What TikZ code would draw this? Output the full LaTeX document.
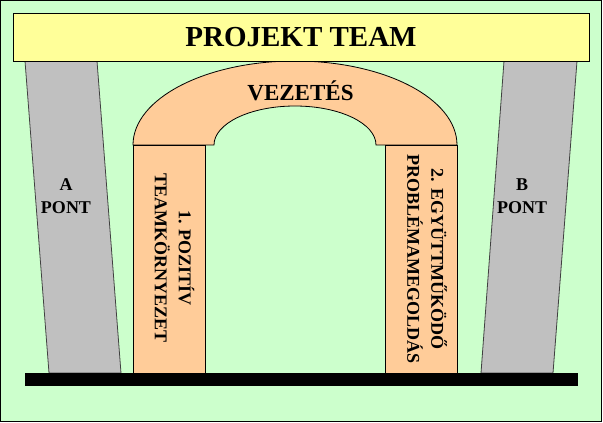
\documentclass[tikz,border=0pt]{standalone}
\usepackage{fontspec}
\setmainfont{Liberation Serif}
\definecolor{bgGreen}{HTML}{CCFFCC}
\definecolor{barYellow}{HTML}{FFFF99}
\definecolor{pillarGray}{HTML}{C0C0C0}
\definecolor{archOrange}{HTML}{FFCC99}
\tikzstyle{barbox} = [rectangle, draw, fill=barYellow, minimum width=576pt, minimum height=48pt, inner sep=0pt, font=\fontsize{29}{34}\selectfont\bfseries]
\tikzstyle{legbox} = [rectangle, draw, fill=archOrange, minimum width=72pt, minimum height=228pt, inner sep=0pt]
\tikzstyle{legtext} = [rotate=-90, align=center, inner sep=0pt, font=\fontsize{18}{24}\selectfont\bfseries]
\tikzstyle{pillar} = [draw=black!75, fill=pillarGray]
\tikzstyle{pillartext} = [align=center, inner sep=0pt, font=\fontsize{18}{23}\selectfont\bfseries]

\begin{document}
\begin{tikzpicture}[x=1pt, y=-1pt, line width=0.8pt]
        \useasboundingbox (0,0) rectangle (603,423);
        \draw[fill=bgGreen, line width=1.4pt] (0.7,0.7) rectangle (601.3,421.3);

        % pillars
        \draw[pillar] (25,61) -- (97,61) -- (121,373) -- (49,373) -- cycle;
        \draw[pillar] (504,61) -- (577,61) -- (553,373) -- (481,373) -- cycle;
        \node[pillartext] at (66,196.5) (PontA) {A\\PONT};
        \node[pillartext] at (522,196.5) (PontB) {B\\PONT};

        % arch
        \draw[fill=archOrange] (133,145) arc[start angle=180, end angle=0, x radius=162pt, y radius=84pt]
            -- (376,145) arc[start angle=0, end angle=180, x radius=81pt, y radius=39pt] -- cycle;
        \node[font=\fontsize{23}{28}\selectfont\bfseries, anchor=base, inner sep=0pt] at (300.5,100) (Vezetes) {VEZETÉS};

        \node[legbox] at (169,259) (LeftLeg) {};
        \node[legbox] at (421.5,259) (RightLeg) {};
        \node[legtext] at (174.5,258) (LeftLegText) {1. POZITÍV\\TEAMKÖRNYEZET};
        \node[legtext] at (427,259) (RightLegText) {2. EGYÜTTMŰKÖDŐ\\PROBLÉMAMEGOLDÁS};

        \node[rectangle, fill=black, minimum width=553pt, minimum height=13pt, inner sep=0pt] at (301.5,379.5) (Base) {};

        \node[barbox] at (301,37) (ProjektTeam) {PROJEKT TEAM};
    \end{tikzpicture}
\end{document}
